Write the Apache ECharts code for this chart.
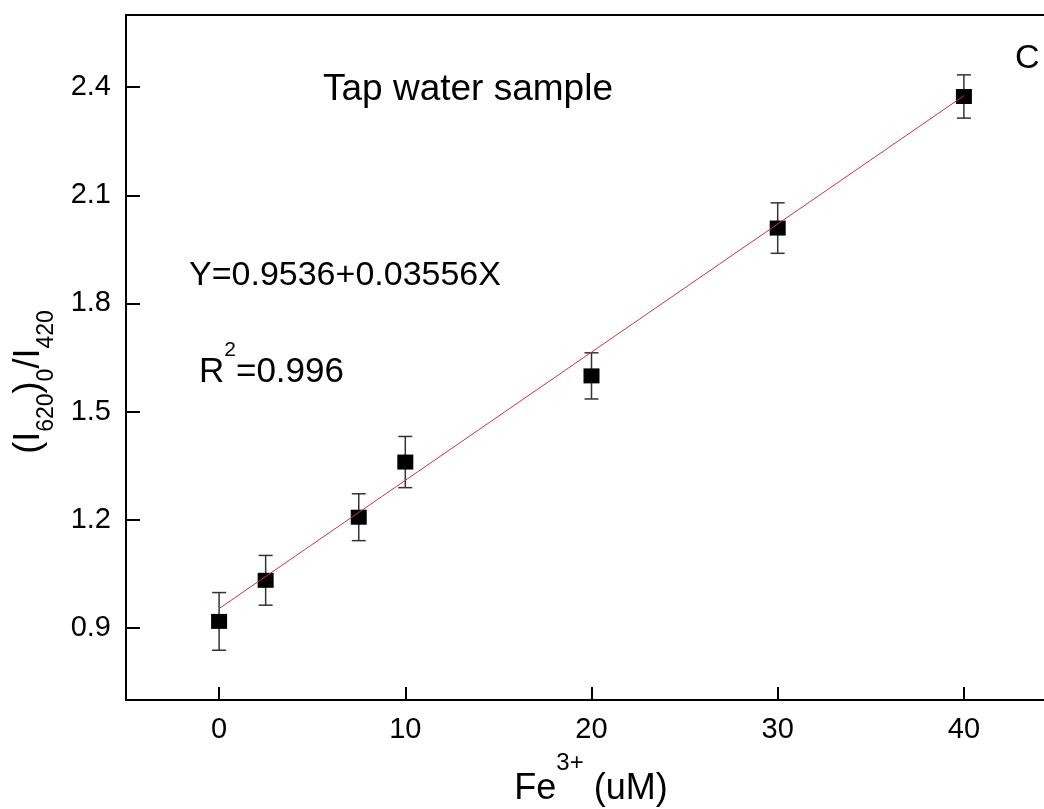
<!DOCTYPE html>
<html><head><meta charset="utf-8">
<script src="https://cdn.jsdelivr.net/npm/echarts@6/dist/echarts.min.js"></script>
<style>html,body{margin:0;padding:0;background:#fff;overflow:hidden}#c{width:1044px;height:809px}</style>
</head><body><div id="c"></div>
<script>
// ---- data ----
const concentrations = [0, 2.5, 7.5, 10, 20, 30, 40];
const ratios = [0.918, 1.032, 1.207, 1.360, 1.599, 2.009, 2.374];
const errors = [0.080, 0.069, 0.065, 0.071, 0.064, 0.070, 0.060];
const fitX = [0, 40];
const fitY = [0.9536, 2.3760];
const xTicks = [0, 10, 20, 30, 40];
const yTicks = [0.9, 1.2, 1.5, 1.8, 2.1, 2.4];
const xRange = [-5, 45];
const yRange = [0.7, 2.6];

const FONT = '"Liberation Sans", Arial, sans-serif';
const chart = echarts.init(document.getElementById('c'), null, {renderer: 'canvas'});

const points = concentrations.map((x, i) => [x, ratios[i], errors[i]]);
const fitLine = fitX.map((x, i) => [x, fitY[i]]);

const lineAxis = {onZero: false, lineStyle: {color: '#000', width: 2}};
const option = {
  animation: false,
  backgroundColor: '#fff',
  grid: {left: 126, top: 15, width: 931, height: 685, containLabel: false, outerBoundsMode: 'none'},
  xAxis: [{
    type: 'value', min: xRange[0], max: xRange[1], position: 'bottom',
    axisLine: lineAxis,
    axisTick: {inside: true, length: 13, lineStyle: {color: '#000', width: 2}, customValues: xTicks},
    axisLabel: {customValues: xTicks, fontSize: 29, color: '#000', fontFamily: FONT, margin: 15},
    splitLine: {show: false}
  }, {
    type: 'value', min: xRange[0], max: xRange[1], position: 'top',
    axisLine: lineAxis, axisTick: {show: false}, axisLabel: {show: false}, splitLine: {show: false}
  }],
  yAxis: [{
    type: 'value', min: yRange[0], max: yRange[1], position: 'left',
    axisLine: lineAxis,
    axisTick: {inside: true, length: 14, lineStyle: {color: '#000', width: 2}, customValues: yTicks},
    axisLabel: {customValues: yTicks, fontSize: 29, color: '#000', fontFamily: FONT, margin: 15,
      formatter: v => Number(v).toFixed(1)},
    splitLine: {show: false}
  }],
  series: [{
    type: 'custom', z: 2, silent: true,
    data: points,
    renderItem: function (params, api) {
      const x = api.value(0), y = api.value(1), e = api.value(2);
      const top = api.coord([x, y + e]);
      const bot = api.coord([x, y - e]);
      const hw = 7;
      const st = {stroke: '#333', lineWidth: 1.5};
      return {type: 'group', children: [
        {type: 'line', shape: {x1: top[0], y1: top[1], x2: bot[0], y2: bot[1]}, style: st},
        {type: 'line', shape: {x1: top[0] - hw, y1: top[1], x2: top[0] + hw, y2: top[1]}, style: st},
        {type: 'line', shape: {x1: bot[0] - hw, y1: bot[1], x2: bot[0] + hw, y2: bot[1]}, style: st}
      ]};
    }
  }, {
    type: 'scatter', z: 3, silent: true,
    data: points.map(p => [p[0], p[1]]),
    symbol: 'rect', symbolSize: [16, 15],
    itemStyle: {color: '#000', opacity: 1}
  }, {
    type: 'line', z: 4, silent: true,
    data: fitLine, symbol: 'none',
    lineStyle: {color: '#cc3545', width: 1}
  }],
  graphic: [
    {type: 'text', x: 323, y: 90, silent: true,
     style: {text: 'Tap water sample', font: '37px ' + FONT, fill: '#000', align: 'left', verticalAlign: 'middle'}},
    {type: 'text', x: 1015, y: 59, silent: true,
     style: {text: 'C', font: '34px ' + FONT, fill: '#000', align: 'left', verticalAlign: 'middle'}},
    {type: 'text', x: 189, y: 276, silent: true,
     style: {text: 'Y=0.9536+0.03556X', font: '34px ' + FONT, fill: '#000', align: 'left', verticalAlign: 'middle'}},
    {type: 'text', x: 199, y: 340, silent: true,
     style: {text: '{m|R}{s|2}{m|=0.996}', align: 'left', verticalAlign: 'top', fill: '#000',
       rich: {
         m: {fontSize: 35, lineHeight: 35, fontFamily: FONT, verticalAlign: 'top', padding: [15, 0, 0, 0], fill: '#000'},
         s: {fontSize: 21, lineHeight: 21, fontFamily: FONT, verticalAlign: 'top', fill: '#000'}
       }}},
    {type: 'text', x: 591, y: 751, silent: true,
     style: {text: '{m|Fe}{s|3+}{m| (uM)}', align: 'center', verticalAlign: 'top', fill: '#000',
       rich: {
         m: {fontSize: 36, lineHeight: 36, fontFamily: FONT, verticalAlign: 'top', padding: [20, 0, 0, 0], fill: '#000'},
         s: {fontSize: 24, lineHeight: 24, fontFamily: FONT, verticalAlign: 'top', fill: '#000'}
       }}},
    {type: 'text', x: 11, y: 382, rotation: Math.PI / 2, silent: true,
     style: {text: '{m|(I}{b|620}{m|)}{b|0}{m|/I}{b|420}', align: 'center', verticalAlign: 'top', fill: '#000',
       rich: {
         m: {fontSize: 36, lineHeight: 36, fontFamily: FONT, verticalAlign: 'top', fill: '#000'},
         b: {fontSize: 23, lineHeight: 23, fontFamily: FONT, verticalAlign: 'top', padding: [24, 0, 0, 0], fill: '#000'}
       }}}
  ]
};
chart.setOption(option);
</script>
</body></html>
